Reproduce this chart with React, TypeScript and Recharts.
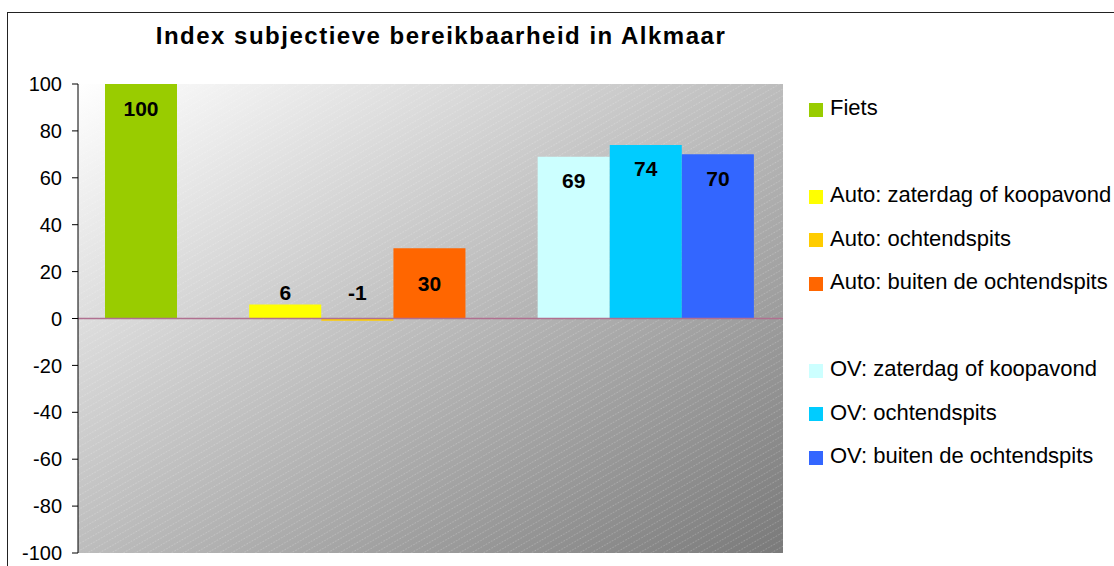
import { BarChart, Bar, XAxis, YAxis, CartesianGrid, ReferenceLine, Cell, LabelList } from 'recharts';

// slots in drawing order; empty names are the blank spacer series
const seriesNames = [
  'Fiets',
  '',
  'Auto: zaterdag of koopavond',
  'Auto: ochtendspits',
  'Auto: buiten de ochtendspits',
  '',
  'OV: zaterdag of koopavond',
  'OV: ochtendspits',
  'OV: buiten de ochtendspits',
];
const seriesValues: (number | null)[] = [100, null, 6, -1, 30, null, 69, 74, 70];
const seriesColors = ['#99CC00', 'none', '#FFFF00', '#FFCC00', '#FF6600', 'none', '#CCFFFF', '#00CCFF', '#3366FF'];
const yTicks = [-100, -80, -60, -40, -20, 0, 20, 40, 60, 80, 100];

const data = seriesNames.map((name, i) => ({ name: name || `blank${i}`, value: seriesValues[i] }));

const FONT = '"Liberation Sans", Arial, sans-serif';

const ValueLabel = (props: any) => {
  const { x, y, width, height, value } = props;
  if (value === null || value === undefined) return null;
  const top = Math.min(y, y + height);
  const bottom = Math.max(y, y + height);
  const h = bottom - top;
  const zeroY = value >= 0 ? bottom : top;
  let cy;
  if (h < 20) cy = zeroY - 26;
  else if (h < 90) cy = (top + bottom) / 2;
  else cy = top + 24;
  return (
    <text
      x={x + width / 2}
      y={cy}
      textAnchor="middle"
      dominantBaseline="central"
      fontFamily={FONT}
      fontWeight="bold"
      fontSize={21}
      fill="#000"
    >
      {value}
    </text>
  );
};

const Legend = () => (
  <div style={{ position: 'absolute', left: 809, top: 0 }}>
    {seriesNames.map((name, i) =>
      name ? (
        <div
          key={i}
          style={{
            position: 'absolute',
            top: 108 + i * 43.5 - 13,
            left: 0,
            height: 26,
            display: 'flex',
            alignItems: 'center',
            whiteSpace: 'nowrap',
            fontFamily: FONT,
            fontSize: 22,
            color: '#000',
          }}
        >
          <span style={{ width: 14, height: 14, background: seriesColors[i], display: 'inline-block', marginRight: 7, marginTop: 3 }} />
          {name}
        </div>
      ) : null
    )}
  </div>
);

export default function App() {
  return (
    <div style={{ position: 'fixed', left: 0, top: 0, width: 1114, height: 566, overflow: 'hidden', background: '#fff' }}>
      <div
        style={{
          position: 'absolute',
          left: 7,
          top: 12,
          width: 1140,
          height: 600,
          border: '1px solid #222',
          boxShadow: '1px 1px 0 #999',
        }}
      />
      <div
        style={{
          position: 'absolute',
          left: 0,
          width: 882,
          top: 22,
          textAlign: 'center',
          fontFamily: FONT,
          fontWeight: 'bold',
          fontSize: 24,
          letterSpacing: 1.5,
          color: '#000',
        }}
      >
        Index subjectieve bereikbaarheid in Alkmaar
      </div>
      <div style={{ position: 'absolute', left: 0, top: 0 }}>
        <BarChart
          width={1114}
          height={566}
          data={data}
          margin={{ top: 84, right: 331, bottom: 13, left: 18 }}
          barCategoryGap={0}
        >
          <defs>
            <linearGradient id="plotGrad" x1="0" y1="0" x2="1" y2="1">
              <stop offset="0%" stopColor="#ffffff" />
              <stop offset="100%" stopColor="#7a7a7a" />
            </linearGradient>
            <pattern id="hatch" width="6" height="6" patternUnits="userSpaceOnUse" patternTransform="rotate(60)">
              <line x1="0" y1="0" x2="0" y2="6" stroke="#ffffff" strokeWidth="1" strokeOpacity="0.45" strokeDasharray="1.5 1.5" />
            </pattern>
          </defs>
          <CartesianGrid horizontal={false} vertical={false} fill="url(#plotGrad)" />
          <CartesianGrid horizontal={false} vertical={false} fill="url(#hatch)" />
          <XAxis dataKey="name" hide padding={{ left: 27, right: 29 }} />
          <YAxis
            width={60}
            domain={[-100, 100]}
            ticks={yTicks}
            interval={0}
            tickSize={6}
            tickMargin={10}
            axisLine={{ stroke: '#000' }}
            tickLine={{ stroke: '#000' }}
            tick={{ fill: '#000', fontSize: 20, fontFamily: FONT }}
          />
          <Bar dataKey="value" isAnimationActive={false}>
            {data.map((_, i) => (
              <Cell key={i} fill={seriesColors[i]} />
            ))}
            <LabelList dataKey="value" content={ValueLabel} />
          </Bar>
          <ReferenceLine y={0} stroke="#B07090" strokeWidth={1.5} />
        </BarChart>
      </div>
      <Legend />
    </div>
  );
}
